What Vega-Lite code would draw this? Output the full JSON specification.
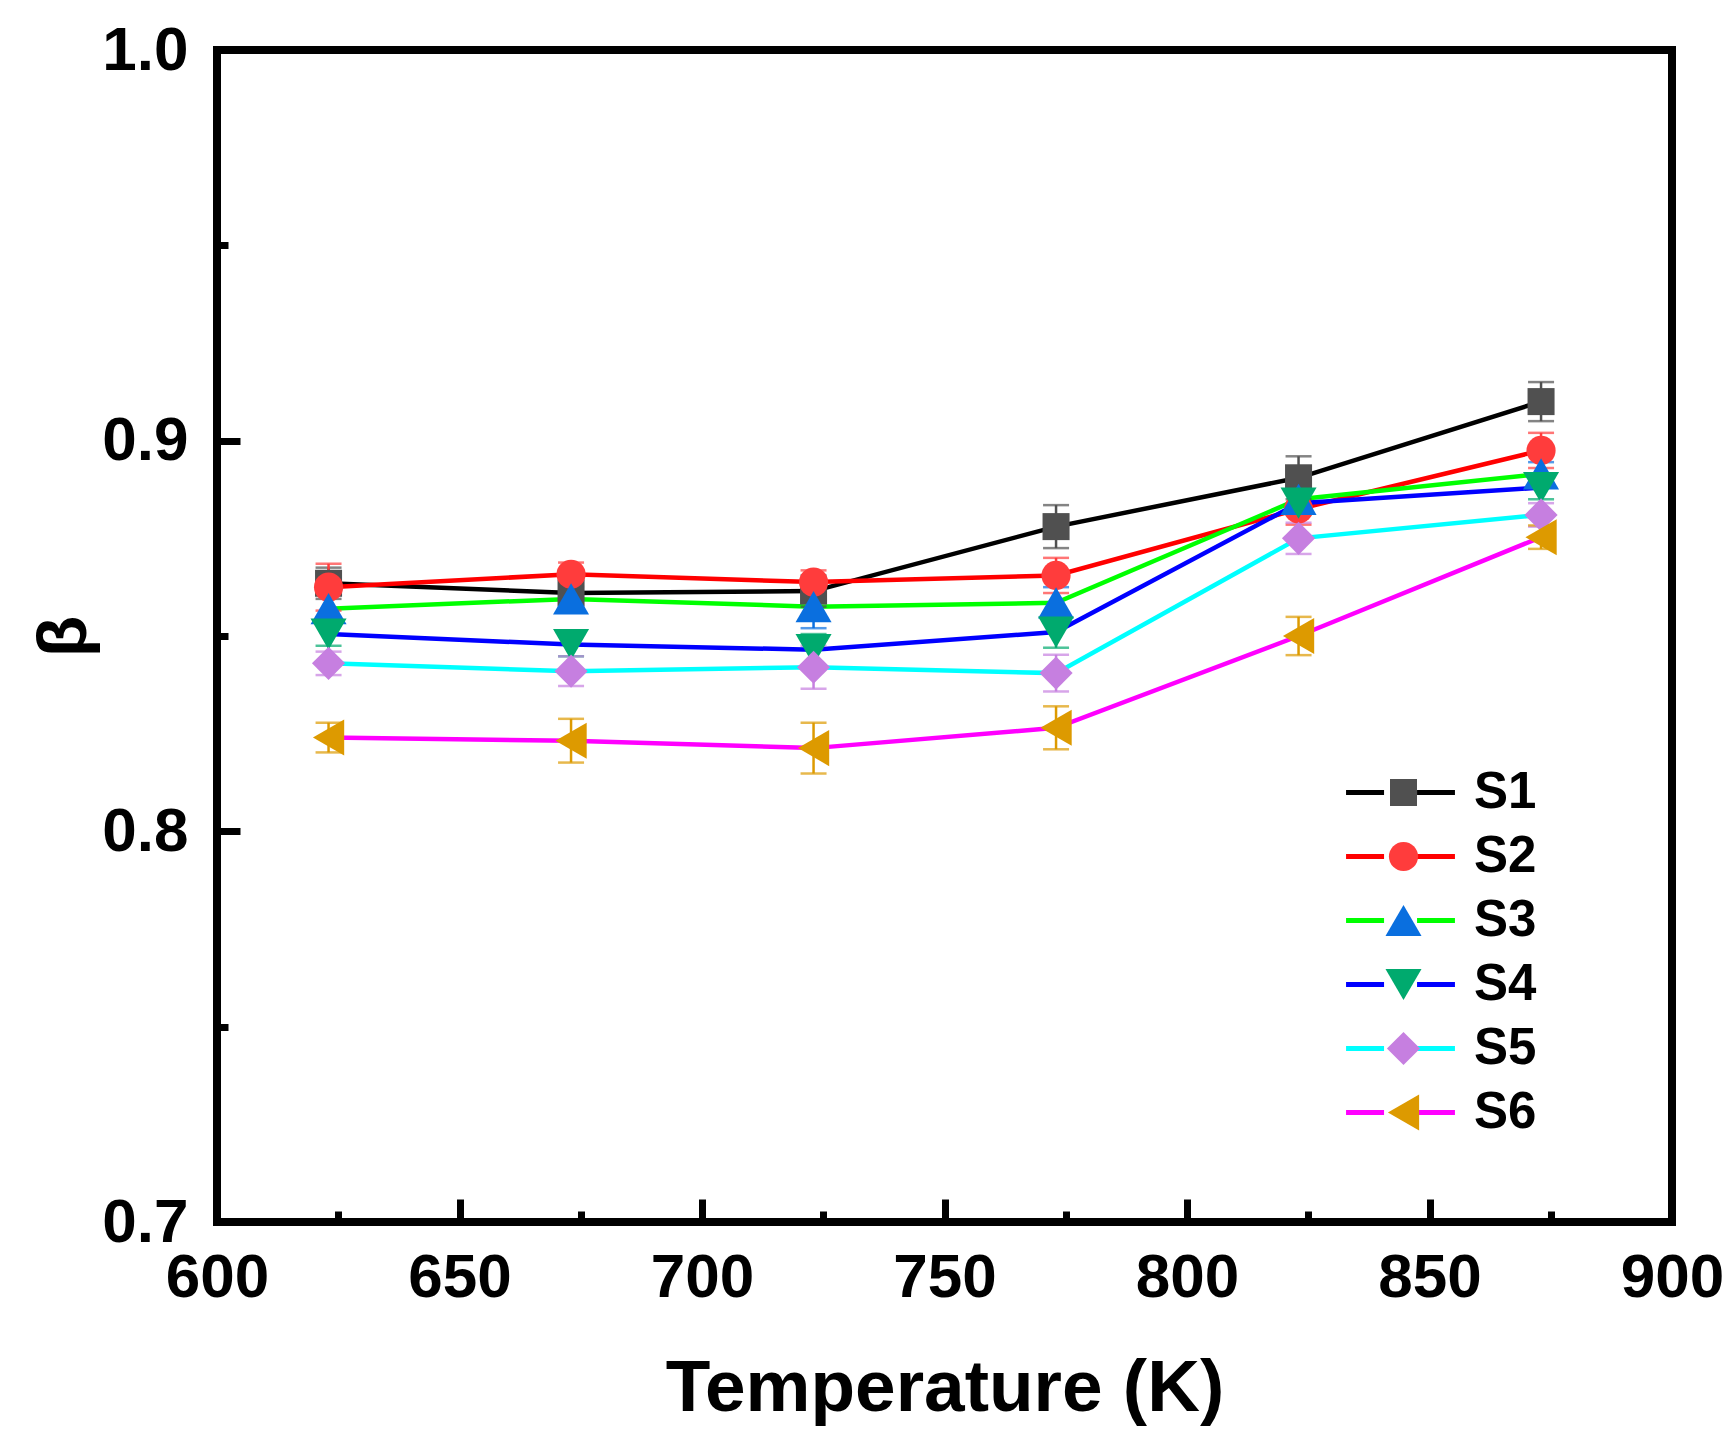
{
  "$schema": "https://vega.github.io/schema/vega-lite/v6.json",
  "width": 1455,
  "height": 1172,
  "autosize": {"type": "none"},
  "padding": {"left": 217, "top": 50, "right": 60, "bottom": 230},
  "background": "white",
  "config": {
    "view": {"stroke": "black", "strokeWidth": 8},
    "font": "Liberation Sans",
    "axis": {
      "grid": false,
      "domain": false,
      "labelFont": "Liberation Sans",
      "labelFontWeight": "bold",
      "labelFontSize": 62,
      "labelColor": "black",
      "titleFont": "Liberation Sans",
      "titleFontWeight": "bold",
      "titleColor": "black",
      "tickColor": "black",
      "tickWidth": 7,
      "labelFlush": false,
      "labelOverlap": false,
      "labelBound": false
    },
    "legend": {
      "labelFont": "Liberation Sans",
      "labelFontWeight": "bold",
      "labelFontSize": 51,
      "labelColor": "black",
      "padding": 0,
      "rowPadding": 12
    }
  },
  "data": {
    "values": [
      {"T": 623, "series": "S1", "beta": 0.8635, "err": 0.004},
      {"T": 673, "series": "S1", "beta": 0.861, "err": 0.003},
      {"T": 723, "series": "S1", "beta": 0.8615, "err": 0.004},
      {"T": 773, "series": "S1", "beta": 0.878, "err": 0.0055},
      {"T": 823, "series": "S1", "beta": 0.8905, "err": 0.0055},
      {"T": 873, "series": "S1", "beta": 0.91, "err": 0.005},
      {"T": 623, "series": "S2", "beta": 0.8625, "err": 0.006},
      {"T": 673, "series": "S2", "beta": 0.8658, "err": 0.003},
      {"T": 723, "series": "S2", "beta": 0.8638, "err": 0.003},
      {"T": 773, "series": "S2", "beta": 0.8655, "err": 0.0045},
      {"T": 823, "series": "S2", "beta": 0.8825, "err": 0.004},
      {"T": 873, "series": "S2", "beta": 0.8975, "err": 0.0045},
      {"T": 623, "series": "S3", "beta": 0.857, "err": 0.004},
      {"T": 673, "series": "S3", "beta": 0.8595, "err": 0.003},
      {"T": 723, "series": "S3", "beta": 0.8575, "err": 0.0055},
      {"T": 773, "series": "S3", "beta": 0.8585, "err": 0.004},
      {"T": 823, "series": "S3", "beta": 0.885, "err": 0.003},
      {"T": 873, "series": "S3", "beta": 0.8915, "err": 0.003},
      {"T": 623, "series": "S4", "beta": 0.8505, "err": 0.003},
      {"T": 673, "series": "S4", "beta": 0.8478, "err": 0.003},
      {"T": 723, "series": "S4", "beta": 0.8465, "err": 0.004},
      {"T": 773, "series": "S4", "beta": 0.851, "err": 0.004},
      {"T": 823, "series": "S4", "beta": 0.884, "err": 0.003},
      {"T": 873, "series": "S4", "beta": 0.888, "err": 0.003},
      {"T": 623, "series": "S5", "beta": 0.843, "err": 0.003},
      {"T": 673, "series": "S5", "beta": 0.841, "err": 0.0038},
      {"T": 723, "series": "S5", "beta": 0.842, "err": 0.0055},
      {"T": 773, "series": "S5", "beta": 0.8405, "err": 0.0047},
      {"T": 823, "series": "S5", "beta": 0.875, "err": 0.004},
      {"T": 873, "series": "S5", "beta": 0.881, "err": 0.003},
      {"T": 623, "series": "S6", "beta": 0.824, "err": 0.0038},
      {"T": 673, "series": "S6", "beta": 0.8232, "err": 0.0056},
      {"T": 723, "series": "S6", "beta": 0.8213, "err": 0.0065},
      {"T": 773, "series": "S6", "beta": 0.8265, "err": 0.0055},
      {"T": 823, "series": "S6", "beta": 0.85, "err": 0.0049},
      {"T": 873, "series": "S6", "beta": 0.8753, "err": 0.003}
    ]
  },
  "encoding": {
    "x": {
      "field": "T",
      "type": "quantitative",
      "scale": {"domain": [600, 900], "nice": false, "zero": false},
      "axis": {
        "title": "Temperature (K)",
        "values": [600, 625, 650, 675, 700, 725, 750, 775, 800, 825, 850, 875, 900],
        "labelExpr": "datum.value % 50 === 0 ? datum.label : ''",
        "tickSize": {"condition": {"test": "datum.value % 50 === 0", "value": -23}, "value": -11},
        "labelPadding": 48,
        "titleFontSize": 73,
        "titlePadding": 32
      }
    },
    "y": {
      "field": "beta",
      "type": "quantitative",
      "scale": {"domain": [0.7, 1.0], "nice": false, "zero": false},
      "axis": {
        "title": "β",
        "values": [0.7, 0.75, 0.8, 0.85, 0.9, 0.95, 1.0],
        "labelExpr": "round(datum.value * 100) % 10 === 0 ? format(datum.value, '.1f') : ''",
        "tickSize": {"condition": {"test": "round(datum.value * 100) % 10 === 0", "value": -23}, "value": -11},
        "labelPadding": 52,
        "titleFontSize": 68,
        "titlePadding": 2
      }
    }
  },
  "layer": [
    {
      "mark": {"type": "line", "strokeWidth": 4.5},
      "encoding": {
        "stroke": {
          "field": "series",
          "type": "nominal",
          "scale": {
            "domain": ["S1", "S2", "S3", "S4", "S5", "S6"],
            "range": ["#000000", "#ff0000", "#00ff00", "#0000ff", "#00ffff", "#ff00ff"]
          },
          "legend": {
            "title": null,
            "orient": "none",
            "legendX": 1158,
            "legendY": 717,
            "symbolType": "M-3.85,0H3.85",
            "symbolSize": 800,
            "symbolStrokeWidth": 5,
            "symbolDash": [38, 33, 38],
            "symbolOpacity": 1,
            "labelOffset": 48
          }
        }
      }
    },
    {
      "mark": {"type": "errorbar", "ticks": {"size": 26}, "thickness": 2.5},
      "encoding": {
        "yError": {"field": "err"},
        "color": {
          "field": "series",
          "type": "nominal",
          "scale": {"range": ["#505050", "#ff3c3c", "#0a6fdf", "#00aa6e", "#c67fe0", "#dd9a00"]},
          "legend": null
        }
      }
    },
    {
      "mark": {"type": "point", "filled": true, "opacity": 1, "strokeWidth": 0},
      "encoding": {
        "fill": {
          "field": "series",
          "type": "nominal",
          "scale": {"range": ["#505050", "#ff3c3c", "#0a6fdf", "#00aa6e", "#c67fe0", "#dd9a00"]},
          "legend": {
            "title": null,
            "orient": "none",
            "legendX": 1161,
            "legendY": 717,
            "symbolStrokeWidth": 0,
            "symbolOpacity": 1,
            "labelOpacity": 0,
            "labelExpr": "' '"
          }
        },
        "shape": {
          "field": "series",
          "type": "nominal",
          "scale": {"range": ["square", "circle", "triangle-up", "triangle-down", "diamond", "triangle-left"]},
          "legend": {
            "title": null,
            "orient": "none",
            "legendX": 1161,
            "legendY": 717,
            "symbolStrokeWidth": 0,
            "symbolOpacity": 1,
            "labelOpacity": 0,
            "labelExpr": "' '"
          }
        },
        "size": {
          "field": "series",
          "type": "nominal",
          "scale": {"type": "ordinal", "range": [730, 850, 1300, 1300, 1100, 1300]},
          "legend": {
            "title": null,
            "orient": "none",
            "legendX": 1161,
            "legendY": 717,
            "symbolStrokeWidth": 0,
            "symbolOpacity": 1,
            "labelOpacity": 0,
            "labelExpr": "' '"
          }
        }
      }
    }
  ]
}
